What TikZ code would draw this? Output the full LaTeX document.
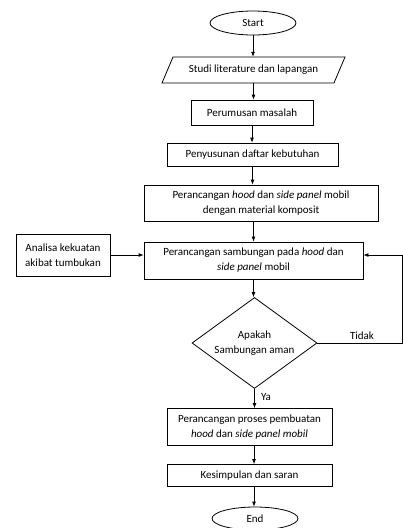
\documentclass[tikz,border=0pt]{standalone}
\usepackage{fontspec}
\setmainfont{Carlito}
\usetikzlibrary{shapes.geometric,arrows.meta}
\begin{document}
\begin{tikzpicture}[x=1pt,y=-1pt,
  every node/.style={font=\fontsize{11}{15}\selectfont, inner sep=0pt},
  box/.style={draw, line width=0.8pt, align=center},
  term/.style={draw, ellipse, line width=0.8pt, minimum width=86pt, minimum height=24pt},
  arr/.style={line width=0.8pt, -{Latex[length=5pt,width=4pt]}},
  ln/.style={line width=0.8pt}]
\useasboundingbox (0,0) rectangle (403,528);
\coordinate (col) at (254,0);
\node[term] (start) at (253,23) {Start};
\node[minimum width=170pt, minimum height=26pt] (lit) at (253.5,70) {Studi literature dan lapangan};
\draw[ln] (162,83) -- (173,57) -- (345,57) -- (334,83) -- cycle;
\node[box, minimum width=122pt, minimum height=25pt] (rum) at (252,112.5) {Perumusan masalah};
\node[box, minimum width=171pt, minimum height=23pt] (sus) at (252.5,154.5) {Penyusunan daftar kebutuhan};
\node[box, minimum width=234pt, minimum height=36pt] (hood) at (261,203) {Perancangan \textit{hood} dan \textit{side panel} mobil\\dengan material komposit};
\node[box, minimum width=219pt, minimum height=37pt] (sam) at (253.5,260.5) {Perancangan sambungan pada \textit{hood} dan\\\textit{side panel} mobil};
\node[box, minimum width=94pt, minimum height=42pt] (ana) at (63,255) {Analisa kekuatan\\akibat tumbukan};
\node[draw, diamond, aspect=1.37, line width=0.8pt, align=center, minimum width=125pt, minimum height=91pt] (dec) at (254.5,343) {Apakah\\Sambungan aman};
\node[box, minimum width=165pt, minimum height=37pt] (pro) at (249.5,427) {Perancangan proses pembuatan\\\textit{hood} dan \textit{side panel mobil}};
\node[box, minimum width=165pt, minimum height=22pt] (kes) at (249.5,475.5) {Kesimpulan dan saran};
\node[term, minimum height=23pt] (end) at (255,518.5) {End};
\coordinate (rt) at (402.5,255);
\draw[arr] (start.south) -- (start.south |- lit.north);
\draw[arr] (lit.south) -- (lit.south |- rum.north);
\draw[arr] (rum.south) -- (rum.south |- sus.north);
\draw[arr] (sus.south) -- (sus.south |- hood.north);
\draw[arr] (sam.north |- hood.south) -- (sam.north);
\draw[arr] (ana.east) -- (ana.east -| sam.west);
\draw[arr] (sam.south) -- (sam.south |- dec.north);
\draw[arr] (dec.south) -- (dec.south |- pro.north);
\draw[arr] (pro.south -| col) -- (kes.north -| col);
\draw[arr] (kes.south -| col) -- (col |- end.north);
\draw[arr] (dec.east) -- (dec.east -| rt) -- (rt) -- (rt -| sam.east);
\node (tidak) at (362,336) {Tidak};
\node (ya) at (266,397) {Ya};
\end{tikzpicture}
\end{document}
